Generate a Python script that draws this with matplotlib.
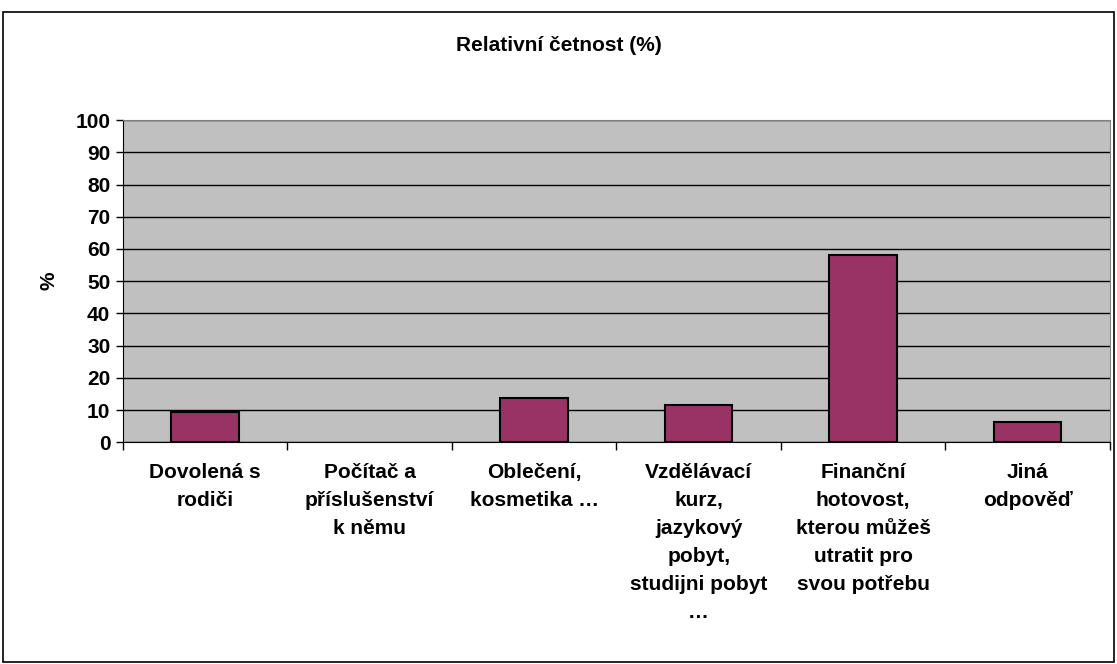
import matplotlib.pyplot as plt
from matplotlib.patches import Rectangle

plt.rcParams['font.family'] = ['Liberation Sans', 'DejaVu Sans']
plt.rcParams['font.weight'] = 'bold'

categories = ["Dovolená s\nrodiči",
              "Počítač a\npříslušenství\nk němu",
              "Oblečení,\nkosmetika …",
              "Vzdělávací\nkurz,\njazykový\npobyt,\nstudijni pobyt\n…",
              "Finanční\nhotovost,\nkterou můžeš\nutratit pro\nsvou potřebu",
              "Jiná\nodpověď"]
values = [9.3, 0, 13.7, 11.5, 58.1, 6.4]

fig = plt.figure(figsize=(11.17, 6.64), dpi=100)
fig.patches.append(Rectangle((0.003, 0.003), 0.994, 0.979, transform=fig.transFigure,
                             fill=False, edgecolor='black', linewidth=1.2))
ax = fig.add_axes([0.110, 0.334, 0.8837, 0.485])
ax.set_facecolor('#c0c0c0')

x = range(len(categories))
edges = [1.5 if v > 0 else 0 for v in values]
ax.bar(x, values, width=0.41, color='#993366', edgecolor='black', linewidth=edges, zorder=3)

ax.set_xlim(-0.5, len(categories) - 0.5)
ax.set_ylim(0, 100)
ax.set_yticks(range(0, 101, 10))
ax.yaxis.grid(True, color='black', linewidth=1, zorder=0)
ax.set_xticks([i + 0.5 for i in range(-1, len(categories))], minor=False)
ax.set_xticklabels([])
ax.set_xticks(list(x), minor=True)
ax.set_xticklabels(categories, minor=True, fontsize=15, fontweight='bold', linespacing=1.6, va='top')
ax.tick_params(axis='x', which='minor', length=0, pad=15)
ax.tick_params(axis='x', which='major', length=6, direction='out', width=1)
ax.tick_params(axis='y', labelsize=15, length=5, width=1, pad=4)
for s in ['top', 'right']:
    ax.spines[s].set_color('#808080')
for s in ['left', 'bottom']:
    ax.spines[s].set_color('black')

ax.set_ylabel("%", fontsize=15, fontweight='bold', labelpad=12)
fig.text(0.5, 0.932, "Relativní četnost (%)", ha='center', va='center', fontsize=15, fontweight='bold')

fig.savefig("out.png", dpi=100)
